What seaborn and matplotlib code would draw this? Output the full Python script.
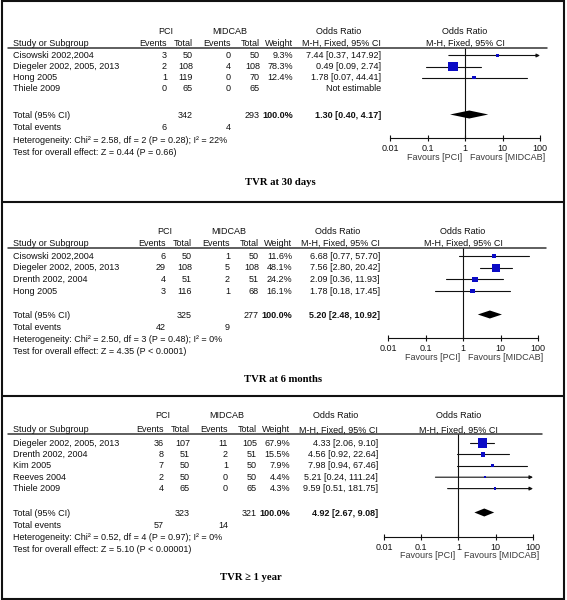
"""
Forest plots of target vessel revascularisation (TVR), PCI vs MIDCAB,
at three follow-up times. RevMan-style layout: study table on the left,
odds-ratio forest plot on a log axis on the right.
"""

import pandas as pd
import matplotlib
matplotlib.use("Agg")
import matplotlib.pyplot as plt
from matplotlib.lines import Line2D
from matplotlib.patches import Rectangle
from matplotlib.ticker import NullLocator
import seaborn as sns

W, H = 567, 600

# ---- TVR at 30 days
studies_30d = ["Cisowski 2002,2004", "Diegeler 2002, 2005, 2013", "Hong 2005", "Thiele 2009"]
pci_events_30d = [3, 2, 1, 0]
pci_total_30d = [50, 108, 119, 65]
mid_events_30d = [0, 4, 0, 0]
mid_total_30d = [50, 108, 70, 65]
weight_30d = [9.3, 78.3, 12.4, None]
or_30d = [7.44, 0.49, 1.78, None]
lo_30d = [0.37, 0.09, 0.07, None]
hi_30d = [147.92, 2.74, 44.41, None]
pooled_30d = (1.30, 0.40, 4.17)
totals_30d = (342, 293, 6, 4)
het_30d = ("2.58", "2", "0.28", "22")
z_30d = ("0.44", "= 0.66")

# ---- TVR at 6 months
studies_6m = ["Cisowski 2002,2004", "Diegeler 2002, 2005, 2013", "Drenth 2002, 2004", "Hong 2005"]
pci_events_6m = [6, 29, 4, 3]
pci_total_6m = [50, 108, 51, 116]
mid_events_6m = [1, 5, 2, 1]
mid_total_6m = [50, 108, 51, 68]
weight_6m = [11.6, 48.1, 24.2, 16.1]
or_6m = [6.68, 7.56, 2.09, 1.78]
lo_6m = [0.77, 2.80, 0.36, 0.18]
hi_6m = [57.70, 20.42, 11.93, 17.45]
pooled_6m = (5.20, 2.48, 10.92)
totals_6m = (325, 277, 42, 9)
het_6m = ("2.50", "3", "0.48", "0")
z_6m = ("4.35", "< 0.0001")

# ---- TVR >= 1 year
studies_1y = ["Diegeler 2002, 2005, 2013", "Drenth 2002, 2004", "Kim 2005", "Reeves 2004", "Thiele 2009"]
pci_events_1y = [36, 8, 7, 2, 4]
pci_total_1y = [107, 51, 50, 50, 65]
mid_events_1y = [11, 2, 1, 0, 0]
mid_total_1y = [105, 51, 50, 50, 65]
weight_1y = [67.9, 15.5, 7.9, 4.4, 4.3]
or_1y = [4.33, 4.56, 7.98, 5.21, 9.59]
lo_1y = [2.06, 0.92, 0.94, 0.24, 0.51]
hi_1y = [9.10, 22.64, 67.46, 111.24, 181.75]
pooled_1y = (4.92, 2.67, 9.08)
totals_1y = (323, 321, 57, 14)
het_1y = ("0.52", "4", "0.97", "0")
z_1y = ("5.10", "< 0.00001")

titles = ["TVR at 30 days", "TVR at 6 months", "TVR \u2265 1 year"]

sns.set_style("white")
plt.rcParams['font.family'] = ['Liberation Sans', 'DejaVu Sans']

BLUE = '#0b0bc6'
INK = '#111111'
FS = 6.5


def fx(x):
    return x / W


def fy(y):
    return 1 - y / H


def put(fig, x, y, s, ha='left', **kw):
    kw.setdefault('fontsize', FS)
    kw.setdefault('color', INK)
    fig.text(fx(x), fy(y), s, ha=ha, va='center', **kw)


def draw_panel(fig, d, lay):
    """Table + forest plot for one follow-up time."""
    dx = lay['dx']
    c_ev1, c_tot1, c_ev2, c_tot2, c_w, c_or = [c + dx for c in (167, 193, 231, 260, 293, 381)]
    x1 = (lay['x001'] + lay['x100']) / 2

    # group headers
    put(fig, (c_ev1 - 29 + c_tot1) / 2, lay['top'], "PCI", ha='center')
    put(fig, (c_ev2 - 32 + c_tot2) / 2, lay['top'], "MIDCAB", ha='center')
    put(fig, c_or - 42, lay['top'], "Odds Ratio", ha='center')
    put(fig, x1, lay['top'], "Odds Ratio", ha='center')

    # column headers
    put(fig, 13, lay['head'], "Study or Subgroup")
    put(fig, c_ev1, lay['head'], "Events", ha='right')
    put(fig, c_tot1, lay['head'], "Total", ha='right')
    put(fig, c_ev2, lay['head'], "Events", ha='right')
    put(fig, c_tot2, lay['head'], "Total", ha='right')
    put(fig, c_w, lay['head'], "Weight", ha='right')
    put(fig, c_or, lay['head'], "M-H, Fixed, 95% CI", ha='right')
    put(fig, x1, lay['head'], "M-H, Fixed, 95% CI", ha='center')
    fig.add_artist(Line2D([fx(8), fx(lay['rule_x1'])], [fy(lay['rule']), fy(lay['rule'])],
                          color='#333333', lw=1.1))

    rows = [lay['row0'] + i * lay['step'] for i in range(len(d['studies']))]
    for i, y in enumerate(rows):
        put(fig, 13, y, d['studies'][i])
        put(fig, c_ev1, y, str(d['pci_ev'][i]), ha='right')
        put(fig, c_tot1, y, str(d['pci_tot'][i]), ha='right')
        put(fig, c_ev2, y, str(d['mid_ev'][i]), ha='right')
        put(fig, c_tot2, y, str(d['mid_tot'][i]), ha='right')
        if d['or'][i] is None:
            put(fig, c_or, y, "Not estimable", ha='right')
        else:
            put(fig, c_w, y, f"{d['w'][i]:.1f}%", ha='right')
            put(fig, c_or, y, f"{d['or'][i]:.2f} [{d['lo'][i]:.2f}, {d['hi'][i]:.2f}]", ha='right')

    est, plo, phi = d['pooled']
    n1, n2, e1, e2 = d['totals']
    put(fig, 13, lay['total'], "Total (95% CI)")
    put(fig, c_tot1, lay['total'], str(n1), ha='right')
    put(fig, c_tot2, lay['total'], str(n2), ha='right')
    put(fig, c_w, lay['total'], "100.0%", ha='right', fontweight='bold')
    put(fig, c_or, lay['total'], f"{est:.2f} [{plo:.2f}, {phi:.2f}]", ha='right', fontweight='bold')
    put(fig, 13, lay['events'], "Total events")
    put(fig, c_ev1, lay['events'], str(e1), ha='right')
    put(fig, c_ev2, lay['events'], str(e2), ha='right')
    chi, df_, p, i2 = d['het']
    put(fig, 13, lay['het'], f"Heterogeneity: Chi\u00b2 = {chi}, df = {df_} (P = {p}); I\u00b2 = {i2}%")
    z, pz = d['z']
    put(fig, 13, lay['test'], f"Test for overall effect: Z = {z} (P {pz})")

    # forest plot
    ax = fig.add_axes([fx(lay['x001']), fy(lay['axis']),
                       (lay['x100'] - lay['x001']) / W, (lay['axis'] - lay['rule']) / H])
    ax.patch.set_alpha(0)
    df = pd.DataFrame({'or': d['or'], 'y': rows, 'w': d['w']}).dropna()
    for _, r in df.iterrows():
        i = rows.index(r['y'])
        lo, hi = d['lo'][i], d['hi'][i]
        if hi > 100:
            ax.annotate('', xy=(100, r['y']), xytext=(max(lo, 0.01), r['y']),
                        arrowprops=dict(arrowstyle='-|>', lw=0.8, color=INK,
                                        mutation_scale=5, shrinkA=0, shrinkB=0),
                        annotation_clip=False)
        else:
            ax.plot([max(lo, 0.01), hi], [r['y'], r['y']], color=INK, lw=0.8, clip_on=False)
    sns.scatterplot(data=df, x='or', y='y', size='w', sizes=(0, 66), size_norm=(0, 100),
                    marker='s', color=BLUE, linewidth=0, legend=False, ax=ax, zorder=3)
    ax.fill([plo, est, phi, est],
            [lay['total'] - 0.5, lay['total'] - 4.5, lay['total'] - 0.5, lay['total'] + 3.5],
            color='black', lw=0, zorder=3)
    ax.axvline(1, color=INK, lw=0.8)

    ax.set_xscale('log')
    ax.set_xlim(0.01, 100)
    ax.set_ylim(lay['axis'], lay['rule'])
    ax.xaxis.set_minor_locator(NullLocator())
    ax.set_xticks([0.01, 0.1, 1, 10, 100])
    ax.set_xticklabels(['0.01', '0.1', '1', '10', '100'])
    ax.set_yticks([])
    ax.set_xlabel('')
    ax.set_ylabel('')
    for s in ['top', 'left', 'right']:
        ax.spines[s].set_visible(False)
    ax.spines['bottom'].set_color(INK)
    ax.spines['bottom'].set_linewidth(0.8)
    ax.tick_params(axis='x', direction='inout', length=5, width=0.8, pad=1.5,
                   labelsize=FS, colors=INK, bottom=True)

    put(fig, x1 - 3, lay['fav'], "Favours [PCI]", ha='right', color='#3a3a3a')
    put(fig, x1 + 5, lay['fav'], "Favours [MIDCAB]", color='#3a3a3a')

    fig.text(fx(lay['title_x']), fy(lay['title']), lay['name'], ha='center', va='center',
             fontsize=7.7, fontweight='bold', family=['Liberation Serif', 'DejaVu Serif'],
             color='black')


panels = [
    dict(studies=studies_30d, pci_ev=pci_events_30d, pci_tot=pci_total_30d, mid_ev=mid_events_30d,
         mid_tot=mid_total_30d, w=weight_30d, pooled=pooled_30d, totals=totals_30d,
         het=het_30d, z=z_30d, lo=lo_30d, hi=hi_30d, **{'or': or_30d}),
    dict(studies=studies_6m, pci_ev=pci_events_6m, pci_tot=pci_total_6m, mid_ev=mid_events_6m,
         mid_tot=mid_total_6m, w=weight_6m, pooled=pooled_6m, totals=totals_6m,
         het=het_6m, z=z_6m, lo=lo_6m, hi=hi_6m, **{'or': or_6m}),
    dict(studies=studies_1y, pci_ev=pci_events_1y, pci_tot=pci_total_1y, mid_ev=mid_events_1y,
         mid_tot=mid_total_1y, w=weight_1y, pooled=pooled_1y, totals=totals_1y,
         het=het_1y, z=z_1y, lo=lo_1y, hi=hi_1y, **{'or': or_1y}),
]

layouts = [
    dict(top=32, head=43, rule=48, row0=55.5, step=11, total=115, events=128, het=140, test=152,
         axis=138, fav=158, title=183, title_x=280, x001=390, x100=540, dx=0, rule_x1=547),
    dict(top=232, head=243, rule=248, row0=256, step=11.7, total=315, events=328, het=340, test=352,
         axis=338, fav=358, title=379, title_x=283, x001=388, x100=538, dx=-1, rule_x1=546),
    dict(top=416, head=430, rule=434, row0=443, step=11.4, total=513, events=526, het=538, test=550,
         axis=537, fav=556, title=578, title_x=251, x001=384, x100=533, dx=-3, rule_x1=542),
]

fig = plt.figure(figsize=(W / 100, H / 100), dpi=100)
for d, lay, name in zip(panels, layouts, titles):
    lay['name'] = name
    draw_panel(fig, d, lay)

# frame and panel separators
fig.add_artist(Rectangle((fx(1.5), fy(598.5)), fx(563.5) - fx(1.5), fy(1.5) - fy(598.5),
                         fill=False, ec='#111111', lw=1.5, transform=fig.transFigure))
for ys in (201.5, 395.5):
    fig.add_artist(Line2D([fx(1.5), fx(563.5)], [fy(ys), fy(ys)], color='#111111', lw=1.5))

fig.savefig('out.png', dpi=100)
